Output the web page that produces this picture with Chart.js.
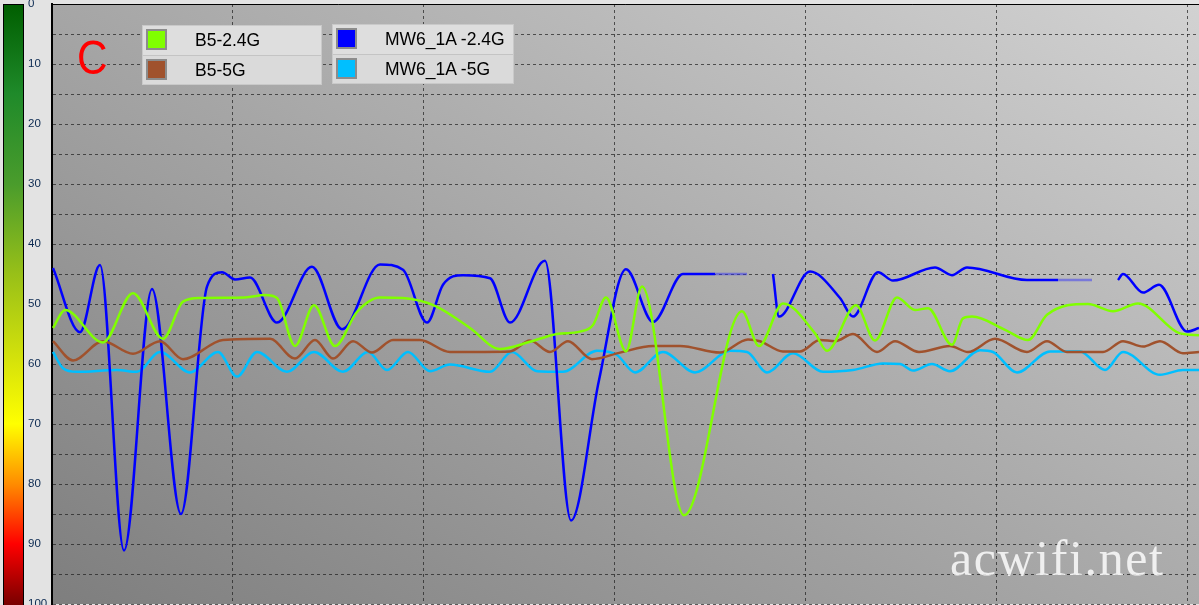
<!DOCTYPE html>
<html>
<head>
<meta charset="UTF-8">
<title>signal C</title>
<script src="https://cdn.jsdelivr.net/npm/chart.js@4.4.1/dist/chart.umd.min.js"></script>
<style>
    html, body { margin: 0; padding: 0; background: #e3e3e3; }
    #wrap { position: relative; width: 1199px; height: 605px; overflow: hidden; }
    #chart { position: absolute; left: 0; top: 0; }
    .lg { position: absolute; background: #dedede; border: 1px solid #c9c9c9; box-sizing: border-box; }
    .lg .row { position: relative; height: 29px; box-sizing: border-box; }
    .lg .row + .row { border-top: 1px solid #c4c4c4; background: #dadada; }
    .lg .sw { position: absolute; left: 3px; top: 3px; width: 21px; height: 21px; box-sizing: border-box; border: 2px solid #8c8c8c; }
    .lg .tx { position: absolute; left: 52px; top: 4px; line-height: 28px; font: 17.5px "Liberation Sans", Arial, sans-serif; color: #000; white-space: nowrap; }
    #tagC { position: absolute; left: 77px; top: 34px; font: 48px/1 "Liberation Sans", Arial, sans-serif; color: #ff0000; transform: scaleX(0.88); transform-origin: left top; }
    #mark { position: absolute; left: 950px; top: 533px; font: 50px/1 "Liberation Serif", "Times New Roman", serif; color: rgba(255,255,255,0.82); letter-spacing: 1.6px; }
</style>
</head>
<body>
<div id="wrap">
    <canvas id="chart" width="1199" height="605"></canvas>
    <div id="tagC">C</div>
    <div id="mark">acwifi.net</div>
</div>
<script>
    // series names and colours
    var names = ["B5-2.4G", "B5-5G", "MW6_1A -2.4G", "MW6_1A -5G"];
    var colors = ["#80ff00", "#a0522d", "#0000ff", "#00bfff"];

    // B5-2.4G
    var tB24 = [1,13,51,81,111,131,148,193,213,225,243,262,283,305,328,351,383,418,448,478,505,528,541,554,574,590,632,690,707,731,763,775,804,823,845,863,876,900,911,920,953,976,995,1036,1061,1086,1128,1147];
    var vB24 = [54.0,51.0,56.4,48.2,55.8,49.6,49.0,48.9,48.5,49.0,57.0,50.2,57.0,51.3,48.9,49.0,50.3,54.0,57.5,56.3,55.0,54.6,53.5,48.9,57.9,47.1,85.2,51.2,57.0,49.9,54.9,57.8,50.2,56.1,48.9,51.0,50.7,56.8,52.4,52.1,54.3,56.0,51.8,50.0,51.2,49.9,54.9,55.2];

    // B5-5G
    var tB5 = [1,21,51,81,108,131,171,218,243,263,281,301,320,341,368,398,458,478,498,516,540,568,601,628,668,696,708,731,748,768,783,801,825,843,867,898,916,943,975,995,1015,1051,1071,1091,1108,1131,1147];
    var vB5 = [56.2,59.4,56.2,58.3,56.2,59.2,56.0,55.8,59.1,56.0,59.1,56.2,58.1,56.0,56.0,58.0,57.9,56.1,58.0,56.2,59.2,58.1,57.0,57.0,58.1,55.9,56.2,57.9,57.9,56.0,56.2,55.0,58.0,56.2,58.0,57.0,58.0,55.8,58.0,56.2,58.0,58.0,56.2,57.1,56.2,58.2,58.0];

    // MW6_1A -2.4G (null = no reading)
    var tMW24 = [1,28,48,72,100,129,155,170,183,198,225,260,290,328,351,375,391,411,438,458,493,519,547,574,601,631,663,695,708,721,727,758,788,801,826,841,883,900,915,975,1006,1040,1053,1066,1071,1091,1107,1135,1147];
    var vMW24 = [44.0,54.7,43.5,91.1,47.5,85.0,47.1,44.7,45.9,45.6,53.1,43.8,54.2,43.4,44.3,53.1,46.8,45.2,45.7,53.1,42.8,86.1,62.7,44.2,53.0,45.0,45.0,45.0,null,45.0,52.1,44.6,49.0,52.1,44.7,46.1,43.9,45.2,43.9,46.0,46.0,46.0,null,46.0,45.0,48.1,46.8,54.6,54.0];
    var staleMW24 = [26, 40]; // segments drawn faded

    // MW6_1A -5G
    var tMW5 = [1,11,25,65,85,108,138,166,185,205,235,262,291,316,335,356,378,398,438,460,485,511,545,565,583,611,643,678,695,715,741,771,801,831,848,861,880,898,928,941,965,998,1028,1053,1071,1108,1131,1147];
    var vMW5 = [58.0,60.7,61.3,61.0,61.3,58.0,61.4,58.0,62.1,58.0,61.3,58.0,61.3,58.0,61.0,58.0,61.2,60.1,61.3,58.0,61.2,61.3,57.8,58.5,61.4,58.0,61.4,57.8,58.0,61.4,58.2,61.3,61.0,59.9,60.0,61.1,60.0,61.2,57.7,58.0,61.4,57.9,57.9,61.0,58.0,61.8,61.0,61.0];

    // x grid positions, y range
    var gridTimes = [180, 371, 562, 753, 944, 1135];
    var yTicks = [0, 10, 20, 30, 40, 50, 60, 70, 80, 90, 100];

    // colour bar on the left (value, colour)
    var barStops = [[0,"#005e00"],[15,"#1f8a2a"],[30,"#4a9c2c"],[45,"#98c018"],[60,"#d8e40a"],[70,"#ffff00"],[80,"#ff8c00"],[90,"#ff0000"],[100,"#7a0000"]];

    function pts(t, v) {
        var out = [];
        for (var i = 0; i < t.length; i++) out.push({ x: t[i], y: v[i] });
        return out;
    }

    var series = [pts(tB24, vB24), pts(tB5, vB5), pts(tMW24, vMW24), pts(tMW5, vMW5)];

    var datasets = series.map(function (d, i) {
        var ds = {
            label: names[i],
            data: d,
            borderColor: colors[i],
            borderWidth: 2.5,
            pointRadius: 0,
            fill: false,
            cubicInterpolationMode: 'monotone',
            spanGaps: false
        };
        if (i == 2) {
            ds.segment = {
                borderColor: function (c) { return staleMW24.indexOf(c.p0DataIndex) >= 0 ? 'rgba(40,40,255,0.45)' : undefined; }
            };
        }
        return ds;
    });

    var panel = {
        id: 'panel',
        beforeDraw: function (chart) {
            var ctx = chart.ctx, a = chart.chartArea, y = chart.scales.y;
            ctx.save();
            ctx.fillStyle = '#e3e3e3';
            ctx.fillRect(0, 0, chart.width, chart.height);
            // light towards the top right, more vertical than diagonal
            var len = 1095;
            var g = ctx.createLinearGradient(a.left, a.bottom, a.left + 0.503 * len, a.bottom - 0.864 * len);
            g.addColorStop(0, '#7e7e7e');
            g.addColorStop(1, '#d2d2d2');
            ctx.fillStyle = g;
            ctx.fillRect(a.left, a.top, a.right - a.left, a.bottom - a.top);
            var top = y.getPixelForValue(0), bot = y.getPixelForValue(100);
            var cg = ctx.createLinearGradient(0, top, 0, bot);
            barStops.forEach(function (s) { cg.addColorStop(s[0] / 100, s[1]); });
            ctx.fillStyle = cg;
            ctx.fillRect(3, top, 20, bot - top + 4);
            ctx.strokeStyle = '#000';
            ctx.lineWidth = 1;
            ctx.strokeRect(3.5, top + 0.5, 20, bot - top + 6);
            ctx.restore();
        },
        afterDraw: function (chart) {
            var ctx = chart.ctx, a = chart.chartArea;
            ctx.save();
            ctx.strokeStyle = '#000';
            ctx.lineWidth = 1;
            ctx.beginPath();
            ctx.moveTo(a.left, a.top + 0.5);
            ctx.lineTo(a.right, a.top + 0.5);
            ctx.stroke();
            ctx.restore();
        }
    };

    var ctx = document.getElementById('chart').getContext('2d');
    var myChart = new Chart(ctx, {
        type: 'line',
        data: { datasets: datasets },
        options: {
            responsive: false,
            animation: false,
            events: [],
            layout: { padding: { left: 28, top: 4, right: 0, bottom: 0 } },
            plugins: { legend: { display: false }, tooltip: { enabled: false } },
            scales: {
                x: {
                    type: 'linear', min: 0, max: 1147,
                    ticks: { display: false },
                    grid: { color: 'rgba(30,30,30,0.7)', lineWidth: 1, drawTicks: false },
                    border: { display: false, dash: [3, 3] },
                    afterBuildTicks: function (s) { s.ticks = gridTimes.map(function (v) { return { value: v }; }); },
                    afterFit: function (s) { s.height = 1; s.paddingLeft = 0; s.paddingRight = 0; }
                },
                y: {
                    min: 0, max: 100, reverse: true,
                    ticks: {
                        stepSize: 5, autoSkip: false, crossAlign: 'far', padding: 0,
                        color: '#0a2850',
                        font: { family: 'Liberation Sans', size: 11.5 },
                        callback: function (v) { return yTicks.indexOf(v) >= 0 ? String(v) : ''; }
                    },
                    grid: { color: 'rgba(30,30,30,0.7)', lineWidth: 1, drawTicks: false },
                    border: { color: '#000', width: 2, dash: [3, 3] },
                    afterFit: function (s) { s.width = 24; s.paddingTop = 0; s.paddingBottom = 0; }
                }
            }
        },
        plugins: [panel]
    });

    // legend boxes, two entries each
    var boxes = [{ left: 142, top: 25, width: 180 }, { left: 332, top: 24, width: 182 }];
    boxes.forEach(function (b, k) {
        var box = document.createElement('div');
        box.className = 'lg';
        box.style.left = b.left + 'px';
        box.style.top = b.top + 'px';
        box.style.width = b.width + 'px';
        for (var j = 0; j < 2; j++) {
            var i = k * 2 + j;
            var row = document.createElement('div');
            row.className = 'row';
            row.innerHTML = '<div class="sw" style="background:' + colors[i] + '"></div><div class="tx">' + names[i] + '</div>';
            box.appendChild(row);
        }
        document.getElementById('wrap').appendChild(box);
    });
</script>
</body>
</html>
